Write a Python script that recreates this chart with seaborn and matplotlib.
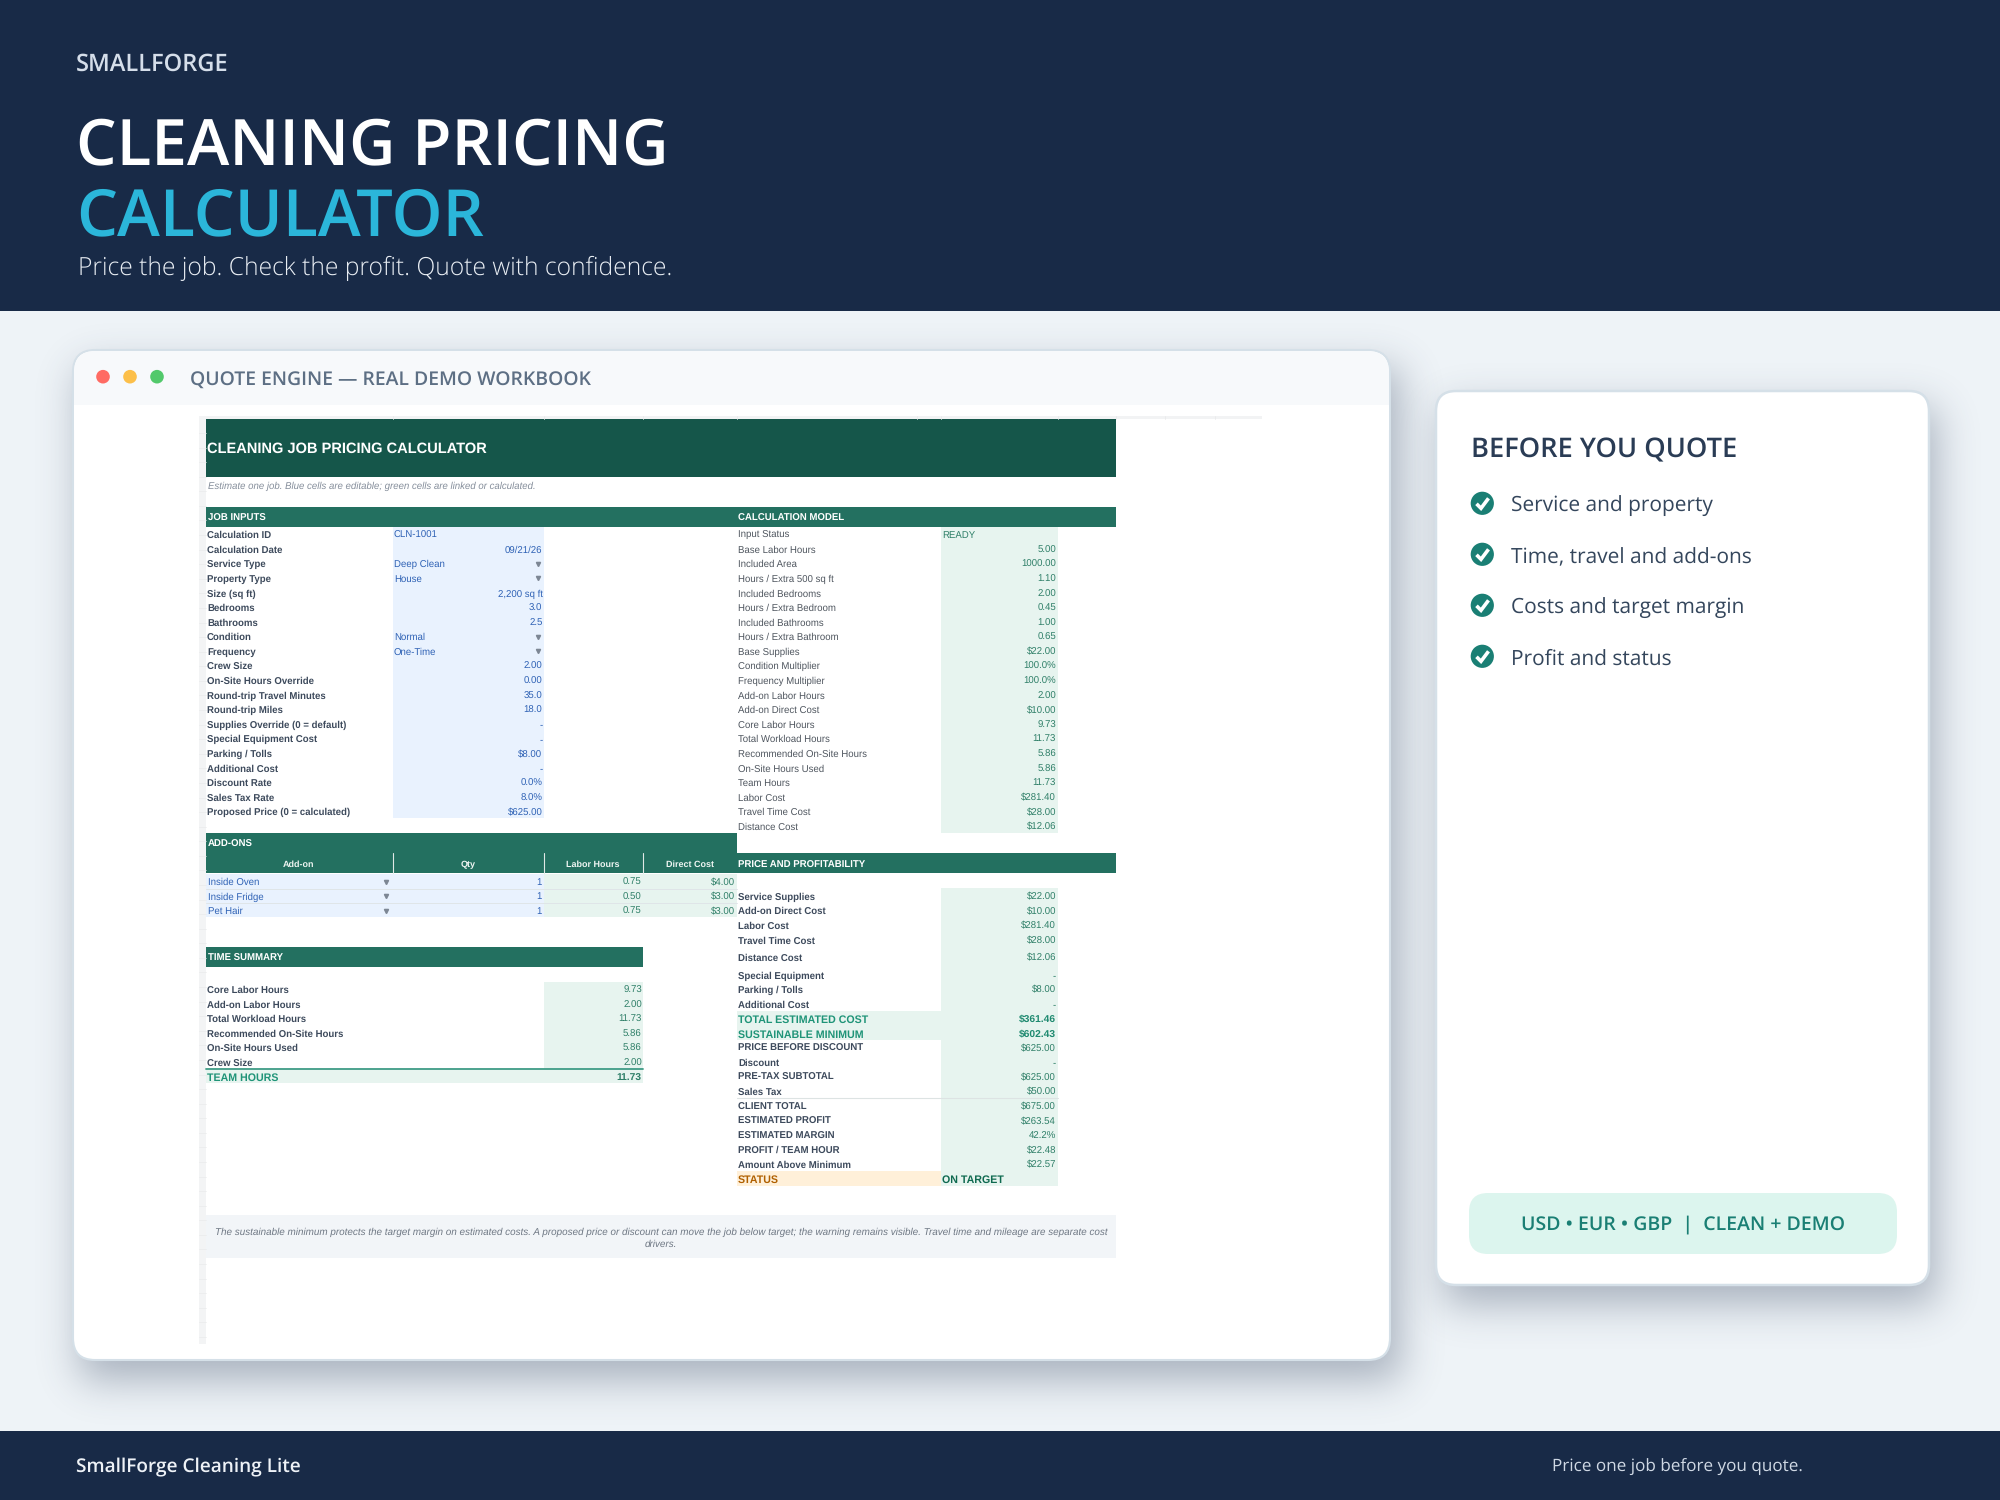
import matplotlib
matplotlib.use("Agg")
import matplotlib.pyplot as plt
from matplotlib.patches import FancyBboxPatch, Rectangle, Circle
import numpy as np
import seaborn as sns

# spreadsheet content
input_labels = ["Calculation ID", "Calculation Date", "Service Type", "Property Type", "Size (sq ft)", "Bedrooms",
                "Bathrooms", "Condition", "Frequency", "Crew Size", "On-Site Hours Override",
                "Round-trip Travel Minutes", "Round-trip Miles", "Supplies Override (0 = default)",
                "Special Equipment Cost", "Parking / Tolls", "Additional Cost", "Discount Rate", "Sales Tax Rate",
                "Proposed Price (0 = calculated)"]
input_values = ["CLN-1001", "09/21/26", "Deep Clean", "House", "2,200 sq ft", "3.0", "2.5", "Normal", "One-Time",
                "2.00", "0.00", "35.0", "18.0", "-", "-", "$8.00", "-", "0.0%", "8.0%", "$625.00"]
input_text_cells = ["CLN-1001", "Deep Clean", "House", "Normal", "One-Time"]
input_dropdowns = ["Deep Clean", "House", "Normal", "One-Time"]

model_labels = ["Input Status", "Base Labor Hours", "Included Area", "Hours / Extra 500 sq ft", "Included Bedrooms",
                "Hours / Extra Bedroom", "Included Bathrooms", "Hours / Extra Bathroom", "Base Supplies",
                "Condition Multiplier", "Frequency Multiplier", "Add-on Labor Hours", "Add-on Direct Cost",
                "Core Labor Hours", "Total Workload Hours", "Recommended On-Site Hours", "On-Site Hours Used",
                "Team Hours", "Labor Cost", "Travel Time Cost", "Distance Cost"]
model_values = ["READY", "5.00", "1000.00", "1.10", "2.00", "0.45", "1.00", "0.65", "$22.00", "100.0%", "100.0%",
                "2.00", "$10.00", "9.73", "11.73", "5.86", "5.86", "11.73", "$281.40", "$28.00", "$12.06"]

addon_headers = ["Add-on", "Qty", "Labor Hours", "Direct Cost"]
addon_names = ["Inside Oven", "Inside Fridge", "Pet Hair"]
addon_qty = ["1", "1", "1"]
addon_hours = ["0.75", "0.50", "0.75"]
addon_cost = ["$4.00", "$3.00", "$3.00"]

time_labels = ["Core Labor Hours", "Add-on Labor Hours", "Total Workload Hours", "Recommended On-Site Hours",
               "On-Site Hours Used", "Crew Size"]
time_values = ["9.73", "2.00", "11.73", "5.86", "5.86", "2.00"]

price_labels = ["Service Supplies", "Add-on Direct Cost", "Labor Cost", "Travel Time Cost", "Distance Cost",
                "Special Equipment", "Parking / Tolls", "Additional Cost", "TOTAL ESTIMATED COST",
                "SUSTAINABLE MINIMUM", "PRICE BEFORE DISCOUNT", "Discount", "PRE-TAX SUBTOTAL", "Sales Tax",
                "CLIENT TOTAL", "ESTIMATED PROFIT", "ESTIMATED MARGIN", "PROFIT / TEAM HOUR",
                "Amount Above Minimum", "STATUS"]
price_values = ["$22.00", "$10.00", "$281.40", "$28.00", "$12.06", "-", "$8.00", "-", "$361.46", "$602.43",
                "$625.00", "-", "$625.00", "$50.00", "$675.00", "$263.54", "42.2%", "$22.48", "$22.57", "ON TARGET"]
price_rows_y = [896, 910.7, 925.3, 940, 957.3, 975, 989.3, 1004, 1019, 1033.7, 1047.7, 1062.3, 1076.7, 1091.3,
                1106, 1120.7, 1135, 1149.7, 1164.3, 1179.3]

checklist = ["Service and property", "Time, travel and add-ons", "Costs and target margin", "Profit and status"]

NAVY = "#182a47"
DARK_GREEN = "#15564a"
BAND = "#237060"
GREEN_CELL = "#e7f4ef"
BLUE_CELL = "#e9f2fe"
BLUE_TEXT = "#2f62b5"
GREEN_TEXT = "#2f7f68"
BOLD_LABEL = "#3d4a5c"
PLAIN_LABEL = "#4f565f"
TEAL = "#1a7f74"
UI_FONT = ["Open Sans", "Noto Sans", "DejaVu Sans"]
SHEET_FONT = ["Liberation Sans", "DejaVu Sans"]
BOLD_PX = 9.6
HIGHLIGHT_PX = 10.6

sns.set_theme(style="white")
plt.rcParams["font.family"] = UI_FONT
plt.rcParams["text.hinting"] = "none"

fig = plt.figure(figsize=(20, 15), dpi=100, facecolor="#eef3f7")
ax = fig.add_axes([0, 0, 1, 1])
ax.set_xlim(0, 2000)
ax.set_ylim(1500, 0)
ax.axis("off")


def txt(x, yc, s, px, color, ha="left", weight="normal", style="normal", family=None, z=10):
    # yc is the middle of the capitals, px the font size in pixels
    ax.text(x, yc + 0.36 * px, s, fontsize=px * 0.72, color=color, ha=ha, va="baseline", weight=weight,
            style=style, family=family or UI_FONT, zorder=z)


def sheet(x, yc, s, px=9.6, color=BOLD_LABEL, ha="left", weight="normal", style="normal"):
    txt(x, yc, s, px, color, ha, weight, style, SHEET_FONT, 12)


def box(x0, y0, x1, y1, color, z=5):
    ax.add_patch(Rectangle((x0, y0), x1 - x0, y1 - y0, facecolor=color, edgecolor="none", zorder=z))


def rounded(x0, y0, x1, y1, r, color, edge="none", lw=0, alpha=1, z=3):
    ax.add_patch(FancyBboxPatch((x0 + r, y0 + r), x1 - x0 - 2 * r, y1 - y0 - 2 * r,
                                boxstyle=f"round,pad={r},rounding_size={r}", facecolor=color, edgecolor=edge,
                                linewidth=lw, alpha=alpha, zorder=z))


def shadow(x0, y0, x1, y1):
    # blurred drop shadow, worked out at quarter size
    mask = np.zeros((375, 500))
    mask[int((y0 + 20) / 4):int((y1 + 20) / 4), int((x0 + 10) / 4):int((x1 + 10) / 4)] = 1.0
    k = np.exp(-0.5 * (np.arange(-15, 16) / 5.0) ** 2)
    k /= k.sum()
    mask = np.apply_along_axis(lambda r: np.convolve(r, k, mode="same"), 0, mask)
    mask = np.apply_along_axis(lambda r: np.convolve(r, k, mode="same"), 1, mask)
    rgba = np.zeros((375, 500, 4))
    rgba[..., :3] = matplotlib.colors.to_rgb("#2b3c58")
    rgba[..., 3] = mask * 0.36
    ax.imshow(rgba, extent=(0, 2000, 1500, 0), interpolation="bilinear", aspect="auto", zorder=1)
    ax.set_xlim(0, 2000)
    ax.set_ylim(1500, 0)


# header and footer
box(0, 0, 2000, 311, NAVY, 2)
box(0, 1431, 2000, 1500, NAVY, 2)
txt(76, 62.3, "SMALLFORGE", 23.6, "#d5deea", weight="semibold")
txt(76, 141.5, "CLEANING PRICING", 64, "white", weight="semibold")
txt(76, 212, "CALCULATOR", 64.8, "#2bb6da", weight="semibold")
txt(78, 266.5, "Price the job. Check the profit. Quote with confidence.", 24.6, "#e8edf3", weight="light")
txt(76, 1466, "SmallForge Cleaning Lite", 19, "#eef2f7", weight="semibold")
txt(1803, 1465, "Price one job before you quote.", 17.1, "#cfd8e4", ha="right")

# workbook window
shadow(73, 350, 1390, 1360)
rounded(73, 350, 1390, 1360, 22, "white", "#d5e0e8", 1.5, z=3)
rounded(74, 351, 1389, 420, 22, "#f7f9fb", z=4)
box(74, 384, 1389, 405, "#f7f9fb", 4)
box(74, 405, 1389, 430, "white", 4)
for cx, dot in zip([103, 130, 157], ["#ff6b63", "#fcbf49", "#52c96b"]):
    ax.add_patch(Circle((cx, 376.7), 6.8, facecolor=dot, edgecolor="none", zorder=6))
txt(190, 379, "QUOTE ENGINE — REAL DEMO WORKBOOK", 19.4, "#5d6f84", weight="semibold")

# sheet gutter and column heads
box(199, 416, 1262, 419, "#f2f3f4", 5)
box(199, 416, 206, 1344, "#f3f4f5", 5)
for gx in [392.5, 543.6, 643, 736.5, 917, 940.7, 1057.5, 1116, 1165, 1215]:
    ax.plot([gx, gx], [416, 418.5], color="#e9eaeb", lw=0.6, zorder=6)
for i in range(63):
    gy = 433 + 14.58 * i
    ax.plot([199, 206], [gy, gy], color="#e9eaeb", lw=0.5, zorder=6)

# title bands
box(206, 419, 1116, 477, DARK_GREEN)
sheet(207, 448, "CLEANING JOB PRICING CALCULATOR", 14.6, "white", weight="bold")
sheet(207.5, 485, "Estimate one job. Blue cells are editable; green cells are linked or calculated.", 9.6,
      "#858e9b", style="italic")
box(206, 507, 1116, 527, BAND)
sheet(207.5, 517, "JOB INPUTS", 9.6, "white", weight="bold")
sheet(738, 517, "CALCULATION MODEL", 9.6, "white", weight="bold")

# job inputs
row_y = [534.7 + 14.58 * i for i in range(21)]
box(392.5, 527, 543.6, 818, BLUE_CELL)
for y, label, value in zip(row_y, input_labels, input_values):
    sheet(207, y, label, BOLD_PX, weight="bold")
    if value in input_text_cells:
        sheet(394, y, value, color=BLUE_TEXT)
    else:
        sheet(542.5, y, value, color=BLUE_TEXT, ha="right")
    if value in input_dropdowns:
        ax.plot([538], [y], marker="v", ms=3, color="#7d8794", ls="none", zorder=12)

# calculation model
box(940.7, 527, 1057.5, 833, GREEN_CELL)
for y, label, value in zip(row_y, model_labels, model_values):
    sheet(738, y, label, color=PLAIN_LABEL)
    if value == "READY":
        sheet(942, y, value, color=GREEN_TEXT)
    else:
        sheet(1056, y, value, color=GREEN_TEXT, ha="right")

# add-ons
box(206, 833, 736.5, 873, BAND)
box(736.5, 853, 1116, 873, BAND)
sheet(207.5, 843.3, "ADD-ONS", 9.6, "white", weight="bold")
sheet(738, 864, "PRICE AND PROFITABILITY", 9.6, "white", weight="bold")
for cx, head in zip([299, 468, 593, 690], addon_headers):
    sheet(cx, 864, head, 9, "#eef5f2", ha="center", weight="bold")
for gx in [392.5, 543.6, 643]:
    ax.plot([gx, gx], [853, 873], color="#dfe8e5", lw=0.8, zorder=6)
addon_y = [881.7, 896, 910.7]
box(206, 874, 543.6, 917, BLUE_CELL)
box(543.6, 874, 736.5, 917, GREEN_CELL)
for y in [888.5, 903]:
    ax.plot([206, 736.5], [y, y], color="#dfe5e8", lw=0.7, zorder=6)
for y, name, qty, hours, cost in zip(addon_y, addon_names, addon_qty, addon_hours, addon_cost):
    sheet(207.5, y, name, color=BLUE_TEXT)
    ax.plot([386], [y], marker="v", ms=3, color="#7d8794", ls="none", zorder=12)
    sheet(541.8, y, qty, color=BLUE_TEXT, ha="right")
    sheet(641.8, y, hours, color=GREEN_TEXT, ha="right")
    sheet(735.4, y, cost, color=GREEN_TEXT, ha="right")

# time summary
box(206, 947, 643, 967, BAND)
sheet(207.5, 957.3, "TIME SUMMARY", 9.6, "white", weight="bold")
box(543.6, 981.7, 643, 1069, GREEN_CELL)
box(206, 1069, 643, 1083.3, GREEN_CELL)
ax.plot([206, 643], [1068.7, 1068.7], color="#3f9c86", lw=1.3, zorder=7)
time_y = [989.3, 1004, 1018.7, 1033, 1047.7, 1062.3]
for y, label, value in zip(time_y, time_labels, time_values):
    sheet(207, y, label, BOLD_PX, weight="bold")
    sheet(641.8, y, value, color=GREEN_TEXT, ha="right")
sheet(207, 1077.3, "TEAM HOURS", HIGHLIGHT_PX, "#1f9478", weight="bold")
sheet(641.8, 1077.3, time_values[2], 10.2, GREEN_TEXT, ha="right", weight="bold")

# price and profitability
box(940.7, 888, 1057.5, 1185.7, GREEN_CELL)
box(737, 1011, 940.7, 1040, GREEN_CELL)
box(737, 1171, 940.7, 1185.7, "#fff0d9")
ax.plot([737, 1057.5], [1097.7, 1097.7], color="#dde3e3", lw=0.8, zorder=7)
for y, label, value in zip(price_rows_y, price_labels, price_values):
    if label in ["TOTAL ESTIMATED COST", "SUSTAINABLE MINIMUM"]:
        sheet(738, y, label, HIGHLIGHT_PX, "#1f9478", weight="bold")
        sheet(1056, y, value, 10.2, "#1f8a70", ha="right", weight="bold")
    elif label == "STATUS":
        sheet(738, y, label, HIGHLIGHT_PX, "#b06000", weight="bold")
        sheet(942, y, value, HIGHLIGHT_PX, "#0f6a50", weight="bold")
    else:
        sheet(738, y, label, BOLD_PX, weight="bold")
        sheet(1056, y, value, color=GREEN_TEXT, ha="right")

# footnote
box(206, 1215, 1116, 1258, "#f2f5f8")
sheet(661, 1231.3, "The sustainable minimum protects the target margin on estimated costs. A proposed price or "
      "discount can move the job below target; the warning remains visible. Travel time and mileage are separate "
      "cost", 9.85, "#6f7884", ha="center", style="italic")
sheet(661, 1243, "drivers.", 9.85, "#6f7884", ha="center", style="italic")

# side card
shadow(1436, 391, 1929, 1285)
rounded(1436, 391, 1929, 1285, 20, "white", "#d5e0e8", 1.8, z=3)
txt(1471, 448, "BEFORE YOU QUOTE", 27.3, "#2a3c55", weight="semibold")
check_y = [503.3, 554.3, 605.3, 656.3]
for y, item in zip(check_y, checklist):
    ax.add_patch(Circle((1482.3, y), 11.6, facecolor=TEAL, edgecolor="none", zorder=6))
    ax.plot([1476.5, 1481, 1488.5], [y + 0.5, y + 5, y - 5], color="white", lw=2.6, zorder=7,
            solid_capstyle="butt", solid_joinstyle="miter")
    txt(1511, y + 1, item, 20.9, "#34465c")
rounded(1469, 1193, 1897, 1254, 19, "#dcf5ee", z=5)
txt(1683, 1223, "USD • EUR • GBP  |  CLEAN + DEMO", 19.5, TEAL, ha="center", weight="semibold")

fig.savefig("out.png", dpi=100, facecolor=fig.get_facecolor())
